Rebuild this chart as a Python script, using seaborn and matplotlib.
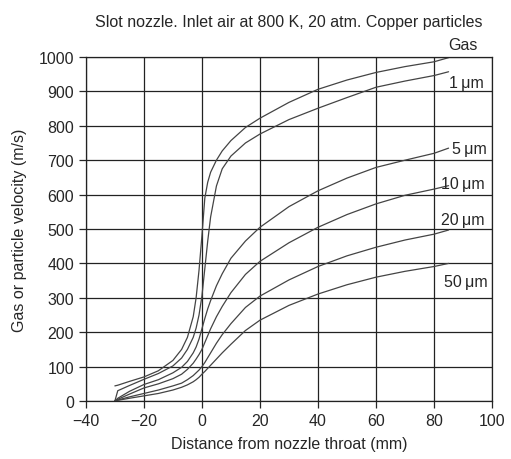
import seaborn as sns
import matplotlib.pyplot as plt
import pandas as pd

# distance from nozzle throat (mm), shared by every curve
distance = [-30, -29, -25, -20, -15, -10, -7, -5, -3, -2, -1, 0, 1, 2, 3, 5, 7,
            10, 15, 20, 30, 40, 50, 60, 70, 80, 85]

# velocities (m/s)
gas = [44, 46, 57, 70, 88, 118, 150, 185, 245, 300, 380, 480, 590, 636, 665, 700, 727,
       757, 795, 822, 868, 906, 933, 955, 972, 986, 998]
um1 = [0, 30, 45, 63, 80, 102, 125, 150, 185, 212, 250, 305, 385, 465, 535, 625, 675,
       712, 750, 776, 818, 851, 882, 912, 930, 946, 957]
um5 = [0, 8, 28, 48, 62, 82, 98, 115, 140, 157, 180, 210, 240, 268, 292, 335, 370,
       415, 465, 505, 565, 611, 648, 679, 700, 720, 735]
um10 = [0, 5, 20, 38, 50, 65, 78, 92, 110, 122, 135, 150, 170, 190, 210, 245, 275,
        315, 368, 406, 460, 505, 542, 573, 598, 616, 626]
um20 = [0, 3, 12, 22, 32, 44, 52, 62, 74, 82, 90, 100, 112, 126, 140, 168, 193,
        225, 272, 305, 352, 391, 422, 447, 468, 485, 497]
um50 = [0, 2, 8, 15, 22, 32, 40, 47, 56, 62, 69, 78, 86, 95, 104, 122, 140,
        165, 205, 235, 278, 311, 338, 360, 377, 391, 400]

curve_names = ['Gas', '1\u2009\u03bcm', '5\u2009\u03bcm', '10\u2009\u03bcm', '20\u2009\u03bcm', '50\u2009\u03bcm']
# label anchor points (x, y) in data units
label_x = [90, 91, 92, 90, 90, 91]
label_y = [1035, 925, 733, 631, 529, 346]

sns.set_style('white')
plt.rcParams['font.family'] = ['Liberation Sans', 'DejaVu Sans']

fig = plt.figure(figsize=(5.11, 4.60), dpi=100)
ax = fig.add_axes([0.168, 0.126, 0.795, 0.748])

for name, vals in zip(curve_names, [gas, um1, um5, um10, um20, um50]):
    df = pd.DataFrame({'x': distance, 'v': vals})
    sns.lineplot(data=df, x='x', y='v', ax=ax, color='#444444', lw=0.9, sort=False)

for name, lx, ly in zip(curve_names, label_x, label_y):
    ax.text(lx, ly, name, fontsize=11.5, ha='center', va='center', clip_on=False)

ax.set_xlim(-40, 100)
ax.set_ylim(0, 1000)
ax.set_xticks(range(-40, 101, 20))
ax.set_yticks(range(0, 1001, 100))
ax.grid(True, color='#222222', lw=0.9)
for s in ax.spines.values():
    s.set_color('#222222')
    s.set_linewidth(0.9)
ax.tick_params(direction='out', length=5, width=0.9, labelsize=11.5, left=True, bottom=True)

ax.set_xlabel('Distance from nozzle throat (mm)', fontsize=11.5, labelpad=6)
ax.set_ylabel('Gas or particle velocity (m/s)', fontsize=11.5, labelpad=8)
ax.set_title('Slot nozzle. Inlet air at 800 K, 20 atm. Copper particles', fontsize=11.5, pad=22)

fig.savefig('out.png', dpi=100)
